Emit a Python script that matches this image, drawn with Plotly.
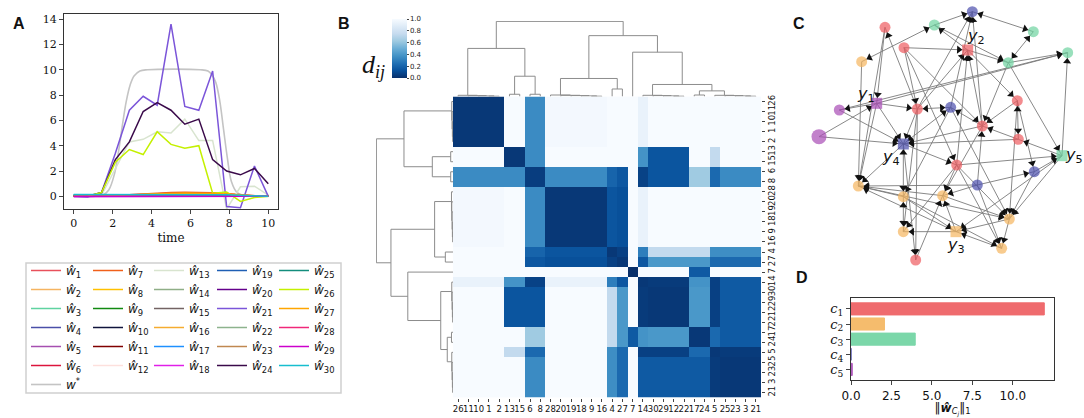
import math
import plotly.graph_objects as go
from plotly.colors import sequential

W, H = 1084, 418


def fx(px):
    return px / W


def fy(py):
    return 1 - py / H


# ---------------- panel A: estimated weights over time ----------------
time = [0, 0.71, 1.43, 2.14, 2.86, 3.57, 4.29, 5.0, 5.71, 6.43, 7.14, 7.86, 8.57, 9.29, 10]

w_hat_1 = [0.0, 0.01, 0.03, 0.07, 0.12, 0.17, 0.21, 0.24, 0.26, 0.25, 0.22, 0.16, 0.09, 0.03, 0.0]
w_hat_2 = [0.0, 0.01, 0.02, 0.05, 0.09, 0.13, 0.17, 0.2, 0.21, 0.2, 0.17, 0.12, 0.07, 0.02, 0.0]
w_hat_3 = [0.08, 0.08, 0.09, 0.1, 0.11, 0.12, 0.13, 0.14, 0.14, 0.13, 0.11, 0.08, 0.05, 0.02, 0.0]
w_hat_4 = [0.04, 0.04, 0.05, 0.06, 0.07, 0.08, 0.09, 0.09, 0.09, 0.08, 0.07, 0.05, 0.03, 0.01, 0.0]
w_hat_5 = [0.0, -0.01, 0.0, 0.01, 0.02, 0.02, 0.03, 0.03, 0.03, 0.03, 0.02, 0.02, 0.01, 0.0, 0.0]
w_hat_6 = [0.0, 0.0, 0.01, 0.04, 0.08, 0.12, 0.16, 0.19, 0.2, 0.19, 0.16, 0.11, 0.06, 0.02, 0.0]
w_hat_7 = [0.0, 0.0, 0.02, 0.07, 0.14, 0.2, 0.26, 0.3, 0.32, 0.31, 0.28, 0.22, 0.12, 0.04, 0.0]
w_hat_8 = [0.0, 0.0, 0.01, 0.05, 0.1, 0.14, 0.18, 0.21, 0.22, 0.21, 0.18, 0.13, 0.07, 0.02, 0.0]
w_hat_9 = [0.02, 0.02, 0.03, 0.04, 0.05, 0.06, 0.07, 0.07, 0.07, 0.07, 0.06, 0.04, 0.02, 0.01, 0.0]
w_hat_10 = [0.03, 0.03, 0.04, 0.05, 0.06, 0.07, 0.07, 0.08, 0.08, 0.07, 0.06, 0.05, 0.03, 0.01, 0.0]
w_hat_11 = [0.0, 0.0, 0.01, 0.03, 0.06, 0.09, 0.12, 0.14, 0.15, 0.14, 0.12, 0.09, 0.05, 0.02, 0.0]
w_hat_12 = [0.0, 0.0, 0.01, 0.03, 0.05, 0.08, 0.1, 0.12, 0.13, 0.12, 0.1, 0.07, 0.04, 0.01, 0.0]
w_hat_13 = [0.0, -0.05, 0.1, 2.2, 4.3, 4.5, 5.1, 5.0, 6.1, 4.4, 4.4, -1.0, 0.75, 0.8, 0.1]
w_hat_14 = [0.02, 0.02, 0.02, 0.03, 0.04, 0.05, 0.06, 0.06, 0.06, 0.05, 0.04, 0.03, 0.02, 0.01, 0.0]
w_hat_15 = [0.01, 0.0, 0.01, 0.02, 0.03, 0.04, 0.05, 0.05, 0.05, 0.05, 0.04, 0.03, 0.02, 0.01, 0.0]
w_hat_16 = [0.0, 0.0, 0.02, 0.05, 0.09, 0.13, 0.16, 0.19, 0.2, 0.2, 0.18, 0.14, 0.08, 0.03, 0.0]
w_hat_17 = [0.12, 0.12, 0.12, 0.12, 0.13, 0.13, 0.13, 0.13, 0.13, 0.12, 0.11, 0.09, 0.06, 0.03, 0.0]
w_hat_18 = [-0.02, -0.02, -0.02, -0.02, -0.02, -0.02, -0.02, -0.02, -0.02, -0.02, -0.02, -0.02, -0.01, -0.01, 0.0]
w_hat_19 = [0.06, 0.06, 0.06, 0.07, 0.07, 0.08, 0.08, 0.08, 0.08, 0.08, 0.07, 0.06, 0.04, 0.02, 0.0]
w_hat_20 = [0.01, 0.01, 0.01, 0.02, 0.02, 0.03, 0.03, 0.03, 0.03, 0.03, 0.03, 0.02, 0.01, 0.0, 0.0]
w_hat_21 = [0.0, -0.05, 0.3, 3.4, 6.8, 7.9, 7.2, 13.6, 7.1, 6.8, 9.9, -0.8, -0.9, 2.4, 0.0]
w_hat_22 = [0.02, 0.02, 0.03, 0.04, 0.05, 0.05, 0.06, 0.06, 0.06, 0.06, 0.05, 0.04, 0.02, 0.01, 0.0]
w_hat_23 = [0.0, 0.0, 0.01, 0.03, 0.06, 0.09, 0.11, 0.13, 0.14, 0.14, 0.12, 0.09, 0.05, 0.02, 0.0]
w_hat_24 = [0.0, 0.0, 0.3, 2.9, 4.3, 6.7, 7.4, 6.8, 5.7, 6.1, 2.9, 2.0, 1.7, 2.2, 1.0]
w_hat_25 = [0.1, 0.1, 0.1, 0.11, 0.11, 0.12, 0.12, 0.12, 0.12, 0.11, 0.1, 0.08, 0.05, 0.02, 0.0]
w_hat_26 = [0.0, 0.0, 0.3, 2.7, 3.7, 3.3, 5.1, 4.1, 3.8, 4.0, 0.25, 0.35, -0.4, -0.1, 0.0]
w_hat_27 = [0.0, 0.0, 0.02, 0.06, 0.11, 0.16, 0.2, 0.23, 0.25, 0.25, 0.23, 0.18, 0.1, 0.03, 0.0]
w_hat_28 = [0.0, 0.0, 0.0, 0.01, 0.02, 0.03, 0.04, 0.05, 0.05, 0.05, 0.04, 0.03, 0.02, 0.01, 0.0]
w_hat_29 = [-0.01, -0.01, -0.01, -0.01, -0.01, -0.01, -0.01, -0.01, -0.01, -0.01, -0.01, -0.01, -0.01, 0.0, 0.0]
w_hat_30 = [0.15, 0.15, 0.15, 0.15, 0.16, 0.16, 0.16, 0.16, 0.16, 0.15, 0.14, 0.12, 0.08, 0.04, 0.0]

w_hat = [w_hat_1, w_hat_2, w_hat_3, w_hat_4, w_hat_5, w_hat_6, w_hat_7, w_hat_8, w_hat_9, w_hat_10,
         w_hat_11, w_hat_12, w_hat_13, w_hat_14, w_hat_15, w_hat_16, w_hat_17, w_hat_18, w_hat_19, w_hat_20,
         w_hat_21, w_hat_22, w_hat_23, w_hat_24, w_hat_25, w_hat_26, w_hat_27, w_hat_28, w_hat_29, w_hat_30]

# true weight w*, read at a few times along the smooth curve
w_star_t = [0, 1.0, 1.5, 1.8, 2.1, 2.3, 2.5, 2.7, 2.9, 3.1, 3.4, 3.8, 6.5, 6.9, 7.1, 7.3, 7.5, 7.7, 7.9, 8.1, 8.4, 8.8, 10]
w_star = [0, 0, 0.1, 0.5, 1.8, 3.5, 5.6, 7.5, 8.8, 9.5, 9.9, 10, 10, 9.9, 9.6, 9.0, 7.6, 5.3, 3.0, 1.2, 0.3, 0.05, 0]

w_colors = ["#e8505b", "#f5b461", "#5fd3a0", "#4a4fa8", "#a64fb0", "#dc143c", "#f0601a", "#ffc000",
            "#118a11", "#10143c", "#800000", "#fde0dd", "#d8e4cf", "#8fae87", "#736363", "#f5ac30",
            "#1e90ff", "#e020e8", "#1f5fb4", "#64008c", "#7b55d9", "#8db38d", "#c08850", "#3a0a4a",
            "#138d7c", "#c4f000", "#ffa500", "#f0287a", "#cc00cc", "#17becf"]

# ---------------- panel B: clustered distance matrix ----------------
# linkage (left child, right child, merge height); leaves are node labels
clu_a = (26, (11, (10, (1, 2, 0.004), 0.008), 0.012), 0.016)
clu_b = (13, 15, 0.03)
clu_c = (6, 8, 0.03)
clu_d = (28, (20, (19, (18, (9, 16, 0.004), 0.008), 0.012), 0.016), 0.02)
clu_e = (4, 27, 0.10)
clu_h = (14, (30, (29, (12, 22, 0.004), 0.008), 0.012), 0.016)
clu_j = (17, 24, 0.02)
clu_l = (5, (25, (23, (3, 21, 0.004), 0.008), 0.012), 0.016)
linkage = ((clu_a, (clu_b, clu_c, 0.27), 0.64),
           ((clu_d, clu_e, 0.24), (7, (clu_h, (clu_j, clu_l, 0.075), 0.16), 0.59), 0.81), 1.0)

# blocks of nodes with near-equal distance profiles
blocks = [[26, 11, 10, 1, 2], [13, 15], [6, 8], [28, 20, 19, 18, 9, 16], [4], [27], [7],
          [14], [30, 29, 12, 22], [17, 24], [5], [25, 23, 3, 21]]
block_dist = [
    [0.03, 1, 0.35, 0.98, 1, 1, 1, 0.93, 1, 1, 1, 1],
    [1, 0.03, 0.35, 1, 1, 1, 1, 0.38, 0.14, 1, 0.74, 1],
    [0.35, 0.35, 0.05, 0.35, 0.2, 0.15, 1, 0.07, 0.14, 0.63, 0.22, 0.35],
    [0.98, 1, 0.35, 0.03, 0.14, 0.12, 1, 0.93, 1, 1, 1, 1],
    [1, 1, 0.2, 0.14, 0.03, 0.06, 1, 0.3, 0.74, 0.74, 0.36, 0.36],
    [1, 1, 0.15, 0.12, 0.06, 0.03, 1, 0.15, 0.4, 0.4, 0.22, 0.22],
    [1, 1, 1, 1, 1, 1, 0.0, 1, 1, 0.16, 1, 1],
    [0.93, 0.38, 0.07, 0.93, 0.3, 0.15, 1, 0.03, 0.04, 0.38, 0.06, 0.16],
    [1, 0.14, 0.14, 1, 0.74, 0.4, 1, 0.04, 0.03, 0.4, 0.06, 0.16],
    [1, 1, 0.63, 1, 0.74, 0.4, 0.16, 0.38, 0.4, 0.03, 0.22, 0.16],
    [1, 0.74, 0.22, 1, 0.36, 0.22, 1, 0.06, 0.06, 0.22, 0.03, 0.04],
    [1, 1, 0.35, 1, 0.36, 0.22, 1, 0.16, 0.16, 0.16, 0.04, 0.03],
]

# ---------------- panel C: network ----------------
node_x = [345, 493, 607, 790, 402, 593, 715, 893, 275, 320, 208, 147, 442, 542, 742,
          637, 745, 400, 876, 560, 793, 265, 400, 518, 622, 718, 558, 400, 695, 437]
node_y = [82, 75, 35, 95, 143, 150, 188, 158, 185, 310, 330, 410, 327, 322, 302,
          378, 418, 432, 467, 495, 515, 558, 590, 587, 555, 657, 695, 695, 745, 780]
node_cluster = [0, 2, 3, 2, 0, 0, 2, 2, 1, 4, 4, 4, 0, 3, 0,
                0, 0, 3, 2, 0, 3, 1, 1, 1, 3, 1, 1, 1, 1, 0]
output_nodes = {10: 1, 6: 2, 27: 3, 18: 4, 19: 5}
edges = [(2, 3), (13, 3), (14, 3), (16, 3), (6, 2), (2, 7), (1, 10), (1, 22), (13, 1),
         (5, 6), (5, 13), (5, 20), (5, 16), (6, 7), (6, 15), (16, 6), (13, 6), (20, 6),
         (7, 8), (10, 8), (11, 8), (7, 16), (7, 19), (19, 8), (15, 16), (15, 26), (15, 21),
         (17, 16), (17, 18), (19, 17), (20, 19), (21, 19), (19, 26), (19, 27), (21, 26),
         (25, 21), (25, 24), (25, 16), (25, 29), (26, 29), (26, 27), (20, 26), (24, 26),
         (22, 26), (23, 27), (27, 22), (27, 28), (29, 27), (23, 29), (18, 30), (30, 24),
         (9, 22), (10, 22), (24, 22), (25, 22), (12, 10), (12, 18), (10, 11), (11, 18),
         (10, 13), (10, 18), (13, 18), (16, 14), (16, 18), (18, 20), (20, 24), (20, 28),
         (20, 29), (16, 24), (27, 24), (23, 22), (13, 30), (13, 28), (14, 23), (18, 22),
         (14, 26)]
edges_both = [(3, 4), (4, 7), (2, 9), (15, 17), (13, 14), (28, 23), (23, 18), (18, 14)]

# ---------------- panel D: group norms ----------------
groups = ["c1", "c2", "c3", "c4", "c5"]
group_norm = [11.95, 2.07, 3.97, 0.0, 0.08]
group_colors = ["#ee5b5f", "#f5b55e", "#6dd3a0", "#4b4fad", "#a84bb5"]

serif = "DejaVu Serif"
sans = "DejaVu Sans"

fig = go.Figure()

# ---- A
fig.add_trace(go.Scatter(x=w_star_t, y=w_star, mode="lines", line=dict(color="#c4c4c4", width=1.6, shape="spline"),
                         name="<i>w</i><sup>*</sup>", legend="legend", legendrank=7))
for i, vals in enumerate(w_hat):
    k = i + 1
    leg = "legend" if i < 6 else "legend%d" % (i // 6 + 1)
    fig.add_trace(go.Scatter(x=time, y=vals, mode="lines", line=dict(color=w_colors[i], width=1.5),
                             name="<i>ŵ</i><sub>%d</sub>" % k, legend=leg, legendrank=k))

# ---- B: heatmap
def walk(node, order, segs):
    if isinstance(node, int):
        order.append(node)
        return len(order) - 1, 0.0
    left, right, h = node
    xl, hl = walk(left, order, segs)
    xr, hr = walk(right, order, segs)
    segs.append(((xl, hl), (xl, h), (xr, h), (xr, hr)))
    return (xl + xr) / 2, h


leaf_order = []
segments = []
walk(linkage, leaf_order, segments)

block_of = {}
for bi, members in enumerate(blocks):
    for m in members:
        block_of[m] = bi

z = [[block_dist[block_of[a]][block_of[b]] for b in leaf_order] for a in leaf_order]

idx = list(range(len(leaf_order)))
fig.add_trace(go.Heatmap(
    z=z, x=idx, y=idx, xaxis="x2", yaxis="y2", zmin=0, zmax=1,
    colorscale=sequential.Blues_r, showscale=True,
    colorbar=dict(x=fx(392), xanchor="left", y=fy(19), yanchor="top", len=59, lenmode="pixels",
                  thickness=15, thicknessmode="pixels", xpad=0, ypad=0, outlinewidth=0,
                  tickvals=[0, 0.2, 0.4, 0.6, 0.8, 1.0], ticktext=["0.0", "0.2", "0.4", "0.6", "0.8", "1.0"],
                  ticks="outside", ticklen=2, tickfont=dict(size=7, family=sans, color="#222")),
))

# dendrograms
tx, ty, lx, ly = [], [], [], []
for seg in segments:
    for pos, h in seg:
        tx.append(pos)
        ty.append(h)
        lx.append(h)
        ly.append(pos)
    tx.append(None); ty.append(None); lx.append(None); ly.append(None)
fig.add_trace(go.Scatter(x=tx, y=ty, mode="lines", line=dict(color="#8c8c8c", width=1),
                         xaxis="x3", yaxis="y3", showlegend=False, hoverinfo="skip"))
fig.add_trace(go.Scatter(x=lx, y=ly, mode="lines", line=dict(color="#8c8c8c", width=1),
                         xaxis="x4", yaxis="y4", showlegend=False, hoverinfo="skip"))

# ---- C: network
node_r = [22 if i == 11 else 16.5 for i in range(len(node_x))]
ex, ey = [], []
ax_, ay_, ang = [], [], []


def add_head(s, t):
    dx = node_x[t] - node_x[s]
    dy = node_y[t] - node_y[s]
    length = math.hypot(dx, dy)
    ux, uy = dx / length, dy / length
    back = node_r[t] + 10
    ax_.append(node_x[t] - ux * back)
    ay_.append(node_y[t] - uy * back)
    ang.append(math.degrees(math.atan2(ux, -uy)))


for s, t in edges + edges_both:
    s -= 1; t -= 1
    ex += [node_x[s], node_x[t], None]
    ey += [node_y[s], node_y[t], None]
for s, t in edges:
    add_head(s - 1, t - 1)
for s, t in edges_both:
    add_head(s - 1, t - 1)
    add_head(t - 1, s - 1)

fig.add_trace(go.Scatter(x=ex, y=ey, mode="lines", line=dict(color="#7a7a7a", width=0.9),
                         xaxis="x5", yaxis="y5", showlegend=False, hoverinfo="skip"))
fig.add_trace(go.Scatter(x=ax_, y=ay_, mode="markers", xaxis="x5", yaxis="y5", showlegend=False,
                         marker=dict(symbol="triangle-up", size=7, angle=ang, color="#111111", line=dict(width=0)),
                         hoverinfo="skip"))
fig.add_trace(go.Scatter(
    x=node_x, y=node_y, mode="markers", xaxis="x5", yaxis="y5", showlegend=False,
    marker=dict(symbol=["square" if (i + 1) in output_nodes else "circle" for i in range(len(node_x))],
                size=[15 if i == 11 else 11 for i in range(len(node_x))],
                color=[group_colors[c] for c in node_cluster], line=dict(width=0)),
))

# ---- D: bars
fig.add_trace(go.Bar(x=group_norm, y=groups, orientation="h", xaxis="x6", yaxis="y6", showlegend=False,
                     width=0.8, marker=dict(color=group_colors, opacity=0.9, line=dict(color=group_colors, width=1))))

# ---------------- layout ----------------
axis_line = dict(showline=True, linecolor="#333", linewidth=1.2, mirror=True, showgrid=False, zeroline=False)
leg_common = dict(xanchor="left", yanchor="top", bgcolor="rgba(0,0,0,0)", tracegroupgap=0,
                  font=dict(family=sans, size=12, color="#111"), itemwidth=30)
legend_cols = [32, 94, 155, 218, 280]

layout = dict(
    width=W, height=H, margin=dict(l=0, r=0, t=0, b=0, autoexpand=False),
    paper_bgcolor="white", plot_bgcolor="white",
    xaxis=dict(domain=[fx(64), fx(278)], range=[-0.5, 10.5], ticks="outside", ticklen=4,
               tickvals=[0, 2, 4, 6, 8, 10], tickfont=dict(family=serif, size=11, color="#111"),
               title=dict(text="time", font=dict(family=serif, size=12, color="#111"), standoff=4),
               **axis_line),
    yaxis=dict(domain=[fy(209), fy(14)], range=[-1.0, 14.4], ticks="outside", ticklen=4,
               tickvals=[0, 2, 4, 6, 8, 10, 12, 14], tickfont=dict(family=serif, size=11, color="#111"),
               **axis_line),
    xaxis2=dict(domain=[fx(453), fx(761)], range=[-0.5, 29.5], anchor="y2", tickvals=idx,
                ticktext=[str(v) for v in leaf_order], ticks="outside", ticklen=3, tickangle=0,
                tickfont=dict(family=sans, size=8.5, color="#111"), showgrid=False, zeroline=False),
    yaxis2=dict(domain=[fy(397.5), fy(96.5)], range=[29.5, -0.5], anchor="x2", side="right", tickvals=idx,
                ticktext=[str(v) for v in leaf_order], ticks="outside", ticklen=3, tickangle=-90,
                tickfont=dict(family=sans, size=8.5, color="#111"), showgrid=False, zeroline=False),
    xaxis3=dict(domain=[fx(453), fx(761)], range=[-0.5, 29.5], anchor="y3", visible=False),
    yaxis3=dict(domain=[fy(96.5), fy(21)], range=[0, 1.005], anchor="x3", visible=False),
    xaxis4=dict(domain=[fx(376), fx(453)], range=[1.005, 0], anchor="y4", visible=False),
    yaxis4=dict(domain=[fy(397.5), fy(96.5)], range=[29.5, -0.5], anchor="x4", visible=False),
    xaxis5=dict(domain=[fx(770), 1], range=[0, 942], anchor="y5", visible=False),
    yaxis5=dict(domain=[fy(270), 1], range=[810, 0], anchor="x5", visible=False),
    xaxis6=dict(domain=[fx(851), fx(1054)], range=[0, 12.55], anchor="y6", ticks="outside", ticklen=4,
                tickvals=[0, 2.5, 5, 7.5, 10], ticktext=["0.0", "2.5", "5.0", "7.5", "10.0"],
                tickfont=dict(family=sans, size=12, color="#111"),
                title=dict(text="‖<b><i>ŵ</i></b><sub><i>C<sub>j</sub></i></sub>‖<sub>1</sub>",
                           font=dict(family=sans, size=12, color="#111"), standoff=2),
                **axis_line),
    yaxis6=dict(domain=[fy(380), fy(298)], range=[4.7, -0.72], anchor="x6", ticks="outside", ticklen=4,
                type="category", tickvals=groups,
                ticktext=["<i>c</i><sub>%d</sub>" % (i + 1) for i in range(len(groups))],
                tickfont=dict(family=serif, size=13, color="#111"), **axis_line),
    shapes=[dict(type="rect", xref="paper", yref="paper", x0=fx(26), x1=fx(341), y0=fy(393), y1=fy(263),
                 line=dict(color="#d0d0d0", width=1.5))],
)
layout["legend"] = dict(x=fx(legend_cols[0] - 6), y=fy(256), **leg_common)
for c in range(1, 5):
    layout["legend%d" % (c + 1)] = dict(x=fx(legend_cols[c] - 6), y=fy(256), **leg_common)

fig.update_layout(**layout)

annotations = []
for letter, x, y in [("A", 11, 13), ("B", 336, 13), ("C", 807, 13), ("D", 810, 288)]:
    annotations.append(dict(text="<b>%s</b>" % letter, x=fx(x), y=fy(y), xref="paper", yref="paper",
                            showarrow=False, font=dict(family="Liberation Sans", size=16, color="#111")))
annotations.append(dict(text="<i>d</i><sub><i>ij</i></sub>", x=fx(373), y=fy(48), xref="paper", yref="paper",
                        showarrow=False, font=dict(family="Liberation Serif", size=26, color="#111")))
label_shift = {1: (-11, 9), 2: (8, 14), 3: (0, -14), 4: (-12, -13), 5: (12, 0)}
for node, k in output_nodes.items():
    sx, sy = label_shift[k]
    annotations.append(dict(text="<i>y</i><sub>%d</sub>" % k, x=node_x[node - 1], y=node_y[node - 1],
                            xref="x5", yref="y5", xshift=sx, yshift=sy, showarrow=False,
                            font=dict(family=sans, size=16, color="#111")))
fig.update_layout(annotations=annotations)

# the page keeps the browser's default body margin otherwise, which offsets the whole figure
fig.write_html("out.html", config={"displayModeBar": False},
               post_script="document.body.style.margin='0px';")
